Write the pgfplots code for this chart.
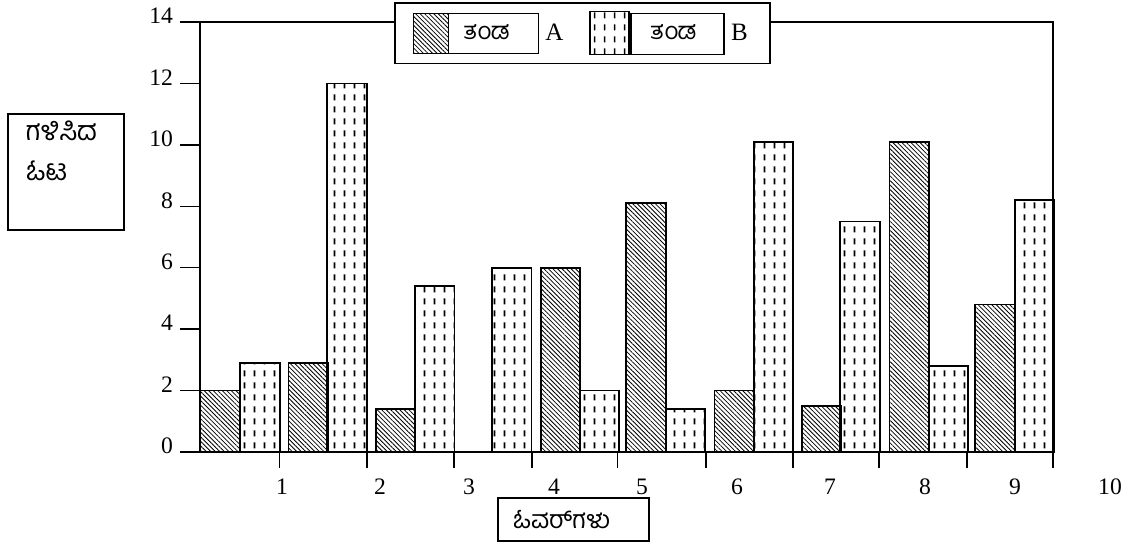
\documentclass[border=0pt]{standalone}
\usepackage{fontspec}
\setmainfont{Liberation Serif}
\newfontfamily\kn[Script=Kannada]{Hind Mysuru}
\usepackage{pgfplots}
\pgfplotsset{compat=1.18}
\usetikzlibrary{patterns,patterns.meta}

\pgfdeclarepatternformonly{vdash}{\pgfpoint{0pt}{0pt}}{\pgfpoint{5pt}{5.8pt}}{\pgfpoint{5pt}{5.8pt}}{%
  \pgfsetlinewidth{0.9pt}%
  \pgfpathmoveto{\pgfpoint{2.5pt}{1.4pt}}%
  \pgfpathlineto{\pgfpoint{2.5pt}{4.4pt}}%
  \pgfusepath{stroke}}

\pgfplotsset{
  legA/.style={legend image code/.code={
     \draw[##1] (0pt,-10pt) rectangle (17.5pt,10pt);
     \draw[black,line width=0.8pt,fill=white] (17.5pt,-10pt) rectangle (62.5pt,10pt);
     \node[font=\kn\fontsize{12}{14}\selectfont] at (36.4pt,0pt) {ತಂಡ};}},
  legB/.style={legend image code/.code={
     \draw[##1] (0pt,-10.5pt) rectangle (19.5pt,11pt);
     \draw[black,line width=0.8pt,fill=white] (20.5pt,-10.5pt) rectangle (67pt,10pt);
     \node[font=\kn\fontsize{12}{14}\selectfont] at (41.5pt,0pt) {ತಂಡ};}},
}

\begin{document}
\begin{tikzpicture}
\useasboundingbox (-100pt,-46pt) rectangle (471pt,226pt);
\begin{axis}[
  scale only axis, width=426.5pt, height=215pt,
  xmin=200, xmax=1053, ymin=0, ymax=14,
  axis line style={line width=0.7pt},
  tick align=outside, tick pos=left,
  major tick length=10pt, minor tick length=8pt,
  ytick={0,2,4,6,8,10,12,14},
  xtick={282,380,469,554,642,737,830,925,1015},
  xticklabels={1,2,3,4,5,6,7,8,9},
  minor xtick={279.3,367,454,532,617.5,706,793,879,967,1053},
  every major x tick/.append style={draw=none},
  every tick/.append style={line width=0.7pt, black},
  ticklabel style={font=\fontsize{11.8}{13}\selectfont},
  yticklabel style={yshift=3pt},
  /pgf/number format/assume math mode=true,
  clip=false,
  xlabel={\kn ಓವರ್^^^^200cಗಳು},
  ylabel={\parbox[c][58pt][t]{58pt}{\leftskip=8.85pt\vspace*{3.5pt}ಗಳಿಸಿದ\\ಓಟ}},
  every axis x label/.style={at={(axis description cs:0.3482,-0.10465)}, anchor=north west,
     draw=black, line width=0.8pt, minimum height=21.5pt, text width=60.5pt, align=left,
     inner xsep=7.5pt, inner ysep=0pt, font=\kn\fontsize{12.5}{15}\selectfont},
  every axis y label/.style={at={(axis description cs:-0.2259,0.7877)}, anchor=north west,
     draw=black, line width=0.8pt, inner sep=0pt, font=\kn\fontsize{13.5}{20}\selectfont},
  legend style={at={(0.2274,1.0465)}, anchor=north west, draw=black, line width=0.8pt,
     inner xsep=9pt, inner ysep=4pt, legend columns=-1, cells={anchor=center},
     font=\fontsize{12.5}{14}\selectfont,
     /tikz/every odd column/.append style={column sep=1pt},
     /tikz/every even column/.append style={column sep=11pt}},
]
\addplot[ybar, bar width=39.5, bar shift=0pt, draw=black, line width=0.8pt,
  pattern={Lines[angle=-45,distance=1.6pt,line width=0.4pt]}, legA] coordinates {
  (220.3,2) (308.2,2.9) (395.7,1.4) (473,0) (560.5,6) (646,8.1)
  (734.3,2) (821.5,1.5) (909.2,10.1) (995,4.8)};
\addlegendentry{A}
\addplot[ybar, bar width=39.5, bar shift=0pt, draw=black, line width=0.8pt,
  pattern=vdash, legB] coordinates {
  (260,2.9) (347,12) (434.9,5.4) (511.9,6) (599.2,2) (685.2,1.4)
  (773.5,10.1) (860,7.5) (948.2,2.8) (1034.5,8.2)};
\addlegendentry{B}
\node[anchor=north, inner sep=0.333em, yshift=-10pt, font=\fontsize{11.8}{13}\selectfont] at (axis cs:1110,0) {10};
\end{axis}
\end{tikzpicture}
\end{document}
